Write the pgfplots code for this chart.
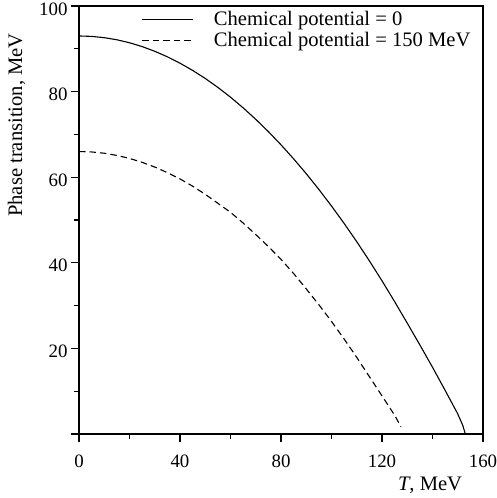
\documentclass[border=0pt]{standalone}
\usepackage{fontspec}
\setmainfont{Liberation Serif}
\usepackage{pgfplots}
\pgfplotsset{compat=1.18}
\begin{document}
\begin{tikzpicture}
\begin{axis}[
  name=ax,
  scale only axis,
  width=404pt, height=428pt,
  xmin=0, xmax=160, ymin=0, ymax=100,
  xtick={0,40,80,120,160},
  ytick={0,20,40,60,80,100},
  yticklabels={,20,40,60,80,100},
  minor x tick num=1, minor y tick num=1,
  xtick pos=bottom, ytick pos=left,
  tick align=outside,
  major tick length=8pt, minor tick length=4.5pt,
  axis line style={line width=1.1pt},
  every tick/.style={line width=1.1pt, black},
  /pgf/number format/assume math mode=true,
  tick label style={font=\fontsize{18.9}{20}\selectfont},
  yticklabel style={yshift=-3pt},
  xticklabel style={yshift=-9pt},
  xlabel={\textit{T}, MeV},
  ylabel={Phase transition, MeV},
  label style={font=\fontsize{20.6}{23}\selectfont, inner sep=0pt},
  xlabel style={at={(rel axis cs:0.869,-0.1005)}, anchor=north},
  ylabel style={at={(rel axis cs:-0.1547,0.722)}, anchor=center},
  legend style={draw=none, fill=none, inner sep=0pt,
    at={(rel axis cs:0.155,0.988)}, anchor=north west,
    font=\fontsize{20.6}{23}\selectfont,
    nodes={inner sep=0pt, anchor=west},
    column sep=0pt, row sep=5.5pt},
  /tikz/every odd column/.append style={column sep=20pt},
  legend image code/.code={\draw[#1] (0pt,0pt) -- (51pt,0pt);},
  legend cell align=left,
]
\addplot[black, line width=1.1pt] coordinates {
 (0,93.00) (5,92.90) (10,92.60) (15,92.11) (20,91.41) (25,90.52) (30,89.42)
 (35,88.13) (40,86.64) (45,84.95) (50,83.07) (55,80.98) (60,78.70)
 (65,76.21) (70,73.53) (75,70.65) (80,67.57) (85,64.29) (90,60.82)
 (95,57.14) (100,53.27) (105,49.20) (110,44.93) (115,40.46) (120,35.79)
 (125,30.93) (130,25.90) (135,20.80) (140,15.60) (145,10.20) (148,6.90)
 (150,4.70) (152,2.00) (153,0)
};
\addlegendentry{Chemical potential = 0}
\addplot[black, line width=1.1pt, dash pattern=on 6.5pt off 4pt] coordinates {
 (0,66.00) (5,65.90) (10,65.60) (15,65.09) (20,64.39) (25,63.48) (30,62.37)
 (35,61.07) (40,59.60) (45,57.90) (50,56.00) (55,53.90) (60,51.80)
 (65,49.30) (70,46.60) (75,43.80) (80,40.80) (85,37.50) (90,33.90)
 (95,30.20) (100,26.30) (105,22.20) (110,17.90) (115,13.40) (120,8.90)
 (125,4.40) (127.5,1.70)
};
\addlegendentry{Chemical potential = 150 MeV}
\end{axis}
\pgfresetboundingbox
\path (ax.south west) ++(-79pt,-64pt) coordinate (bl);
\path (ax.north east) ++(14pt,6pt) coordinate (tr);
\path[use as bounding box] (bl) rectangle (tr);
\end{tikzpicture}
\end{document}
